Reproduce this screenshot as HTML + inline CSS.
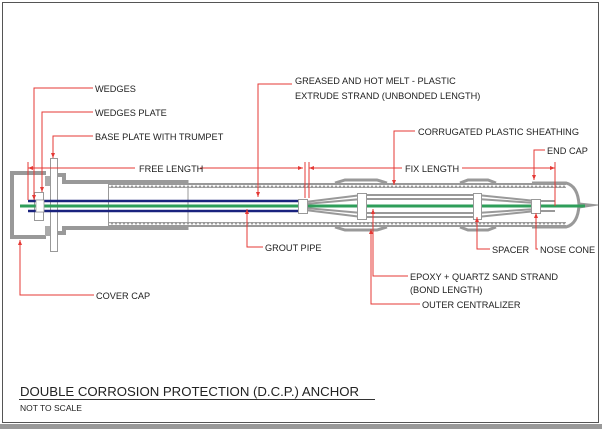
<!DOCTYPE html>
<html><head><meta charset="utf-8"><style>
html,body{margin:0;padding:0;background:#fff;}
svg{display:block;font-family:"Liberation Sans",sans-serif;}
text{font-size:9.2px;fill:#222;}
</style></head><body>
<svg width="602" height="429" viewBox="0 0 602 429">
<defs>
<pattern id="corr" width="4" height="5" patternUnits="userSpaceOnUse">
<rect width="4" height="5" fill="#999"/><path d="M0 0 L2 2.5 L4 0" fill="#fff"/>
</pattern>
<pattern id="corrb" width="4" height="5" patternUnits="userSpaceOnUse">
<rect width="4" height="5" fill="#999"/><path d="M0 5 L2 2.5 L4 5" fill="#fff"/>
</pattern>
</defs>
<rect x="0" y="0" width="602" height="429" fill="#fff"/>
<rect x="2.5" y="2.5" width="596" height="420" fill="none" stroke="#555" stroke-width="1"/>
<rect x="0" y="424" width="602" height="5" fill="#999"/>

<path d="M46 173 H12 V237 H46" fill="none" stroke="#999" stroke-width="4"/>
<rect x="45" y="176" width="6" height="10" fill="#aaa"/>
<rect x="45" y="226" width="6" height="10" fill="#aaa"/>
<rect x="50.5" y="158.5" width="7" height="93" fill="#fff" stroke="#999"/>
<path d="M57 175 H64 V182 H188 M57 233 H64 V228 H188" fill="none" stroke="#999" stroke-width="4"/>
<line x1="188" y1="180" x2="188" y2="230" stroke="#999"/>
<rect x="34.5" y="192.5" width="9" height="28" fill="#fff" stroke="#999"/>

<rect x="108" y="183" width="458" height="5" fill="url(#corr)"/>
<rect x="108" y="222" width="458" height="5" fill="url(#corrb)"/>
<line x1="108.5" y1="183" x2="108.5" y2="227" stroke="#999"/>
<path d="M335 183 L345 180 H377 L387 183" fill="none" stroke="#999" stroke-width="3"/>
<path d="M335 227 L345 230 H377 L387 227" fill="none" stroke="#999" stroke-width="3"/>
<path d="M460 183 L468 180 H488 L496 183" fill="none" stroke="#999" stroke-width="3"/>
<path d="M460 227 L468 230 H488 L496 227" fill="none" stroke="#999" stroke-width="3"/>
<path d="M532 183 H566 Q578 186 579 205 Q578 224 566 227 H532" fill="none" stroke="#999" stroke-width="3"/>
<path d="M579 203 L598 205 L579 208" fill="#999" stroke="#999"/>

<line x1="28" y1="201" x2="303" y2="201" stroke="#1a237e" stroke-width="2.5"/>
<line x1="28" y1="211" x2="303" y2="211" stroke="#1a237e" stroke-width="2.5"/>
<line x1="20" y1="206" x2="585" y2="206" stroke="#2e9e5a" stroke-width="3"/>
<g stroke="#999" stroke-width="2" fill="none">
<path d="M305 202 L362 195 H477 L536 201 H555"/>
<path d="M305 210 L362 217 H477 L536 211 H555"/>
<path d="M305 204 L362 199 H477 L536 203"/>
<path d="M305 208 L362 213 H477 L536 209"/>
</g>
<rect x="298.5" y="199.5" width="9" height="14" fill="#fff" stroke="#999"/>
<rect x="357.5" y="193.5" width="9" height="26" fill="#fff" stroke="#999"/>
<rect x="473.5" y="193.5" width="8" height="26" fill="#fff" stroke="#999"/>
<rect x="531.5" y="199.5" width="9" height="14" fill="#fff" stroke="#999"/>
<rect x="36" y="200" width="8" height="12" fill="#fff" stroke="#999" stroke-width="0.8"/>

<g stroke="#e53935" stroke-width="1" fill="none">
<path d="M93 88 H34 V200"/>
<path d="M93 112 H42 V192"/>
<path d="M93 136 H53 V158"/>
<path d="M292 84 H258 V197"/>
<path d="M415 131 H394 V185"/>
<path d="M545 150 H534 V180"/>
<path d="M263 247 H247 V209"/>
<path d="M490 249 H477 V217"/>
<path d="M538 249 H536 V213"/>
<path d="M408 276 H373 V209"/>
<path d="M420 304 H371 V229"/>
<path d="M94 295 H20 V240"/>
<path d="M28 168 H135 M200 168 H303 M309 168 H402 M462 168 H555"/>
<path d="M28 162 V200 M305 162 V198 M309 162 V198 M555 162 V206"/>
</g>
<g fill="#e53935">
<path d="M34 200 l-2 -5 h4z"/><path d="M42 192 l-2 -5 h4z"/><path d="M53 158 l-2 -5 h4z"/>
<path d="M258 197 l-2 -5 h4z"/><path d="M394 185 l-2 -5 h4z"/><path d="M534 180 l-2 -5 h4z"/>
<path d="M247 209 l-2 5 h4z"/><path d="M477 217 l-2 5 h4z"/><path d="M536 213 l-2 5 h4z"/>
<path d="M373 209 l-2 5 h4z"/><path d="M371 229 l-2 5 h4z"/><path d="M20 240 l-2 5 h4z"/>
<path d="M28 168 l5 -2 v4z"/><path d="M303 168 l-5 -2 v4z"/><path d="M309 168 l5 -2 v4z"/><path d="M555 168 l-5 -2 v4z"/>
</g>

<text x="95" y="92">WEDGES</text>
<text x="95" y="116">WEDGES PLATE</text>
<text x="95" y="140">BASE PLATE WITH TRUMPET</text>
<text x="295" y="84">GREASED AND HOT MELT - PLASTIC</text>
<text x="295" y="99">EXTRUDE STRAND (UNBONDED LENGTH)</text>
<text x="418" y="135">CORRUGATED PLASTIC SHEATHING</text>
<text x="547" y="154">END CAP</text>
<text x="139" y="172">FREE LENGTH</text>
<text x="405" y="172">FIX LENGTH</text>
<text x="265" y="251">GROUT PIPE</text>
<text x="492" y="253">SPACER</text>
<text x="540" y="253">NOSE CONE</text>
<text x="410" y="280">EPOXY + QUARTZ SAND STRAND</text>
<text x="410" y="293">(BOND LENGTH)</text>
<text x="422" y="308">OUTER CENTRALIZER</text>
<text x="96" y="299">COVER CAP</text>
<text x="20" y="396" style="font-size:13.2px">DOUBLE CORROSION PROTECTION (D.C.P.) ANCHOR</text>
<line x1="19" y1="399.5" x2="375" y2="399.5" stroke="#333"/>
<text x="20" y="411" style="font-size:8.5px">NOT TO SCALE</text>
</svg>
</body></html>
